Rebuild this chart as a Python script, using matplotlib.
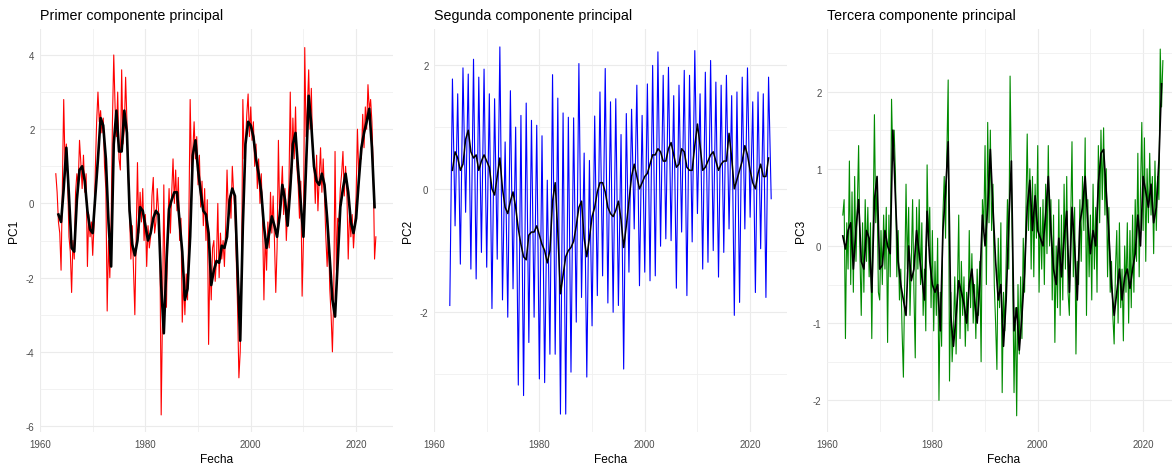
import numpy as np
import matplotlib
matplotlib.use('Agg')
import matplotlib.pyplot as plt
from matplotlib.ticker import MultipleLocator

plt.rcParams['font.family'] = ['Liberation Sans', 'DejaVu Sans']
plt.rcParams['axes.unicode_minus'] = False

start_year = 1963.0

# PC1, quarterly scores
pc1_raw = [
    0.8, 0.3, -0.5, -0.8,   -1.8, 0.5, 2.8, 1.0,
    1.6, 0.6, -0.9, -1.3,   -2.4, -1.0, -1.5, 0.3,
    0.8, 0.5, 1.7, 1.1,     0.4, 1.3, 0.3, 0.8,
    -1.7, -0.3, -0.9, -0.5, -1.4, -0.6, 0.9, 2.2,
    3.0, 2.2, 2.5, 1.9,     2.3, 1.0, 0.4, -2.9,
    -1.0, -2.0, -0.5, 2.2,  4.0, 2.6, 1.8, 3.0,
    1.2, 0.9, 3.6, 1.6,     2.0, 3.4, 2.2, 0.7,
    -0.3, -1.5, -0.6, -1.8, -3.0, -0.9, 1.1, -0.8,
    0.3, -0.5, 0.4, -1.0,   -0.3, -1.7, -0.6, -1.2,
    -0.9, 0.2, 0.7, -0.8,   -0.5, 0.4, -0.2, -1.0,
    -5.7, -3.0, 0.5, -2.3,  -2.8, -0.6, 0.4, -0.8,
    0.3, 1.2, 0.0, 0.9,     -0.2, 0.7, -1.0, -0.4,
    -3.2, -2.0, -3.0, -1.9, -2.6, -0.5, 2.8, 0.9,
    1.4, 2.2, 1.2, 1.8,     0.5, 1.3, -0.1, 0.6,
    -0.6, 0.4, -1.0, 0.1,   -3.8, -1.5, -2.6, -1.2,
    -1.0, -2.1, -1.5, 0.0,  -2.0, -0.8, -1.5, -1.0,
    -1.7, -0.6, 0.9, -0.3,  0.2, -0.4, 1.0, 0.3,
    -0.2, -1.5, -2.8, -4.7, -4.0, -2.0, 2.8, 1.2,
    1.6, 2.4, 2.95, 1.8,    2.6, 1.7, 2.2, 1.0,
    1.6, 0.4, 1.2, 0.0,     0.8, -0.5, -2.6, -0.8,
    -1.8, -0.5, -1.2, 0.3,  -0.8, 0.2, -1.0, -2.4,
    -1.2, 1.7, -0.4, 0.2,   1.0, -0.3, 0.4, -1.0,
    -0.2, 0.5, 3.0, 0.8,    2.3, 1.2, 2.6, 1.0,
    0.5, -0.4, 0.6, -2.5,   -1.0, 4.2, 1.8, 2.6,
    3.6, 2.0, 3.1, 1.4,     1.1, 0.0, 1.3, -0.2,
    0.7, 1.5, 0.3, 1.2,     0.2, -0.9, -1.7, -0.7,
    -2.3, -3.0, -4.0, -2.5, 1.4, -1.8, -0.4, -0.5,
    0.4, 0.8, 1.4, 0.2,     1.0, 0.3, -1.5, -0.2,
    -0.9, -0.3, -1.2, -0.6, 0.2, 2.0, 0.8, 1.2,
    1.2, 2.4, 1.5, 2.6,     2.0, 3.2, 2.5, 2.8,
    2.2, 0.9, -1.5, -0.9,
]

# PC1, 12-month smoothing, half-yearly
pc1_smooth = [
    np.nan, -0.3, -0.5, 0.4, 1.5, 0.2, -1.2, -1.3,
    0.1, 0.9, 1.0, 0.6, -0.2, -0.7, -0.8, 0.2,
    1.2, 2.3, 2.1, 1.2, -0.5, -1.7, 1.6, 2.5,
    1.4, 1.4, 2.5, 1.9, -0.2, -1.1, -1.4, -1.0,
    -0.1, -0.2, -0.6, -1.0, -0.8, -0.4, -0.2, -0.3,
    -2.2, -3.5, -1.6, -0.15, 0.1, 0.3, 0.3, -0.5,
    -1.3, -2.6, -2.3, -0.9, 1.3, 1.7, 0.9, 0.3,
    -0.2, -0.3, -0.8, -2.2, -1.8, -1.55, -1.6, -1.14,
    -1.2, -0.9, 0.1, 0.4, 0.2, -1.8, -3.7, -0.6,
    1.6, 2.2, 2.1, 1.8, 1.2, 0.8, 0.3, -0.6,
    -1.2, -0.8, -0.35, -0.6, -0.9, -0.3, 0.5, 0.1,
    -0.6, 0.4, 1.6, 1.9, 0.9, 0.0, -0.9, 1.0,
    2.9, 2.1, 1.0, 0.6, 0.5, 0.8, 0.5, -0.4,
    -1.5, -2.6, -3.05, -1.6, -0.1, 0.4, 0.8, 0.3,
    -0.5, -0.8, -0.4, 0.6, 1.5, 1.9, 2.2, 2.55,
    1.5, -0.1,
]

# PC2, half-yearly troughs and peaks of the seasonal cycle
pc2_raw = [
    -1.89, 1.78, -0.6, 1.54, -1.22, 1.96, -0.38, 1.86,
    -1.3, 2.1, -1.46, 1.81, -1.03, 1.94, -1.27, 1.54,
    -1.94, 1.46, -1.14, 2.3, -1.8, 0.76, -2.08, 1.59,
    -1.62, 1.0, -3.18, 1.19, -3.35, 1.39, -2.49, 1.11,
    -2.08, 1.03, -3.08, 0.86, -3.14, 0.14, -2.68, 1.85,
    -2.68, 1.47, -3.65, 1.23, -3.65, 1.16, -2.97, 1.15,
    -2.16, 2.03, -1.76, 0.58, -3.05, 0.46, -2.22, 1.18,
    -1.73, 1.57, -1.41, 1.95, -1.85, 1.41, -2.0, 1.46,
    -1.89, 0.88, -2.92, 1.22, -1.35, 1.29, -0.65, 1.68,
    -1.57, 1.19, -1.35, 1.7, -1.49, 2.0, -1.41, 2.22,
    -0.93, 1.84, -0.81, 1.97, -0.84, 1.51, -1.61, 1.68,
    -0.7, 1.92, -1.73, 1.84, -0.86, 2.24, -0.4, 1.54,
    -1.3, 1.89, -1.19, 2.08, -1.0, 1.73, -1.43, 1.68,
    -1.03, 1.84, -0.65, 1.51, -2.05, 1.57, -1.84, 1.81,
    -0.65, 1.96, -0.46, 1.41, -1.68, 1.57, -0.97, 1.54,
    -1.76, 1.81, -0.16,
]

pc2_smooth = [
    np.nan, 0.3, 0.6, 0.5, 0.3, 0.4, 0.8, 0.95,
    0.6, 0.5, 0.55, 0.3, 0.45, 0.55, 0.45, 0.35,
    0.0, -0.1, 0.2, 0.5, 0.0, -0.3, -0.4, -0.2,
    -0.05, -0.3, -0.65, -0.9, -1.1, -1.15, -0.75, -0.7,
    -0.7, -0.6, -0.75, -0.9, -1.0, -1.2, -1.0, -0.2,
    0.1, -0.7, -1.7, -1.4, -1.1, -1.0, -0.95, -0.85,
    -0.6, -0.3, -0.2, -0.8, -1.1, -0.8, -0.45, -0.3,
    -0.05, 0.1, 0.1, -0.05, -0.3, -0.4, -0.45, -0.35,
    -0.2, -0.5, -0.95, -0.6, -0.2, 0.2, 0.4, 0.2,
    0.0, 0.1, 0.2, 0.25, 0.4, 0.55, 0.55, 0.65,
    0.6, 0.45, 0.45, 0.65, 0.75, 0.55, 0.35, 0.4,
    0.65, 0.6, 0.35, 0.3, 0.3, 0.7, 1.05, 0.7,
    0.3, 0.35, 0.45, 0.55, 0.6, 0.45, 0.3, 0.4,
    0.45, 0.45, 0.9, 0.5, 0.0, 0.15, 0.3, 0.45,
    0.7, 0.55, 0.3, 0.1, 0.0, 0.25, 0.4, 0.2,
    0.2, 0.5,
]

# PC3, quarterly scores
pc3_raw = [
    0.4, 0.6, -1.2, 0.3,    -0.3, 1.1, -0.5, 0.7,
    -0.6, 0.9, -0.2, 0.5,   1.3, -0.1, -0.9, 0.3,
    -0.6, 0.6, -0.2, 0.5,   -0.4, 0.3, -1.2, 0.2,
    1.7, 0.3, 0.8, -0.6,    -0.7, 0.2, -0.5, 0.4,
    -0.3, 0.5, -1.25, 0.4,  -0.4, 1.9, 1.1, 1.5,
    0.9, -0.4, 0.2, -0.7,   -0.3, -1.1, -1.7, -0.4,
    0.8, -0.3, 0.5, -0.9,   -0.2, 0.6, -0.6, -1.45,
    0.5, -0.3, 0.6, -0.5,   0.3, -0.9, -0.3, -1.1,
    1.05, 0.0, 0.5, -0.8,   0.2, -1.1, -0.2, -0.9,
    0.1, -2.0, -0.6, -1.3,  0.4, 0.9, 0.1, 1.2,
    2.15, -1.75, -0.6, -1.5, -1.1, -0.4, -1.4, -0.6,
    0.4, -1.2, -0.2, -0.9,  -0.4, -1.3, -0.6, -1.1,
    0.2, -0.8, -0.1, -1.0,  -0.5, -1.2, -0.3, -0.9,
    -0.2, -1.5, 0.6, 0.2,   1.3, -0.5, 1.6, 0.3,
    1.5, 0.2, 0.8, -0.5,    -1.0, -1.6, 0.1, -0.8,
    0.3, -1.9, -0.6, -1.1,  -0.2, 0.6, -0.3, 2.2,
    0.9, -0.4, -1.9, -0.8,  -2.2, -0.5, -1.4, -0.4,
    -1.2, 0.1, -0.6, 0.4,   1.45, 0.2, 1.0, -0.3,
    0.9, -0.4, 0.8, 0.1,    1.3, -0.6, 0.5, -0.3,
    0.6, -0.5, 0.8, -0.1,   1.3, 0.0, 0.6, -0.7,
    0.4, -1.25, 0.0, -0.8,  0.6, -0.9, 0.4, -0.7,
    0.8, -0.3, 0.9, -0.6,   -0.9, 0.3, 1.35, -0.4,
    0.5, -1.4, -0.2, -0.5,  0.6, -0.2, 0.9, 0.2,
    1.4, -0.9, 0.6, -0.4,   0.4, -0.7, 0.8, -0.3,
    0.5, -0.6, 1.3, 0.3,    1.5, 0.6, 1.53, 0.4,
    1.0, -0.4, 0.5, -0.6,   -0.2, -0.9, -1.27, -0.3,
    0.2, -1.0, 0.3, -0.8,   -0.3, -1.23, 0.0, -0.6,
    0.3, -1.0, 0.2, -0.8,   0.4, -0.6, 0.6, -0.2,
    1.2, -0.4, 0.7, 1.6,    0.2, 1.4, -0.2, 1.0,
    0.3, 1.2, 0.4, 0.9,     -0.1, 1.1, 0.2, 0.9,
    0.6, 2.55, 1.8, 2.4,
]

pc3_smooth = [
    0.13, -0.04, 0.2, 0.3, -0.3, 0.22, 0.6, -0.2,
    -0.3, 0.2, 0.1, -0.6, 0.6, 0.9, -0.3, -0.25,
    0.2, 0.0, -0.1, 1.5, 0.6, -0.2, -0.5, -0.7,
    -0.9, 0.0, -0.45, -0.3, 0.2, -0.1, -0.4, -0.7,
    0.45, -0.2, -0.5, -0.6, -0.5, -1.1, 0.2, 0.7,
    1.35, -0.9, -1.3, -0.9, -0.45, -0.6, -0.75, -1.0,
    -0.5, -0.3, -0.7, -1.0, -0.5, 0.4, 0.0, 0.5,
    1.25, 0.5, -0.2, -0.7, -0.5, -1.3, -0.7, 0.3,
    1.1, -1.1, -0.8, -1.35, -0.9, -0.35, 0.5, 0.85,
    0.2, 0.65, 0.2, 0.1, 0.0, 0.4, 0.9, 0.2,
    -0.3, -0.5, 0.1, -0.4, 0.1, 0.45, -0.6, 0.5,
    0.0, -0.7, 0.3, 0.5, 0.9, 0.3, -0.1, 0.2,
    0.0, 0.8, 1.2, 1.25, 0.7, 0.15, -0.5, -0.9,
    -0.6, -0.3, -0.7, -0.4, -0.3, -0.55, -0.3, -0.1,
    0.4, 0.0, 0.9, 0.7, 0.5, 0.8, 0.3, 0.5,
    1.1, 2.1,
]

titles = ['Primer componente principal', 'Segunda componente principal',
          'Tercera componente principal']
ylabels = ['PC1', 'PC2', 'PC3']
colors = ['#FF0000', '#0000FF', '#008B00']


def years(values, step):
    return start_year + step * np.arange(len(values))


W, H = 1172, 464
fig = plt.figure(figsize=(W / 100, H / 100), dpi=100)

panels = [
    (pc1_raw, 0.25, pc1_smooth, (-6.16, 4.70), 2, 1, 1.9),
    (pc2_raw, 0.5, pc2_smooth, (-3.94, 2.59), 2, 1, 1.1),
    (pc3_raw, 0.25, pc3_smooth, (-2.41, 2.81), 1, 0.5, 1.2),
]
lefts = [40, 434, 827]

for i, (raw, step, smooth, ylim, ymaj, ymin, slw) in enumerate(panels):
    ax = fig.add_axes([lefts[i] / W, 31 / H, 353 / W, 403 / H])
    ax.plot(years(raw, step), raw, color=colors[i], lw=0.8)
    ax.plot(years(smooth, 0.5), smooth, color='black', lw=slw,
            solid_joinstyle='round')

    ax.set_xlim(1960, 2027)
    ax.set_ylim(*ylim)
    ax.xaxis.set_major_locator(MultipleLocator(20))
    ax.xaxis.set_minor_locator(MultipleLocator(10))
    ax.yaxis.set_major_locator(MultipleLocator(ymaj))
    ax.yaxis.set_minor_locator(MultipleLocator(ymin))
    ax.xaxis.set_major_formatter(lambda v, p: '%d' % v)
    ax.yaxis.set_major_formatter(lambda v, p: '%g' % v)

    ax.grid(which='major', color='#EBEBEB', lw=0.8)
    ax.grid(which='minor', color='#F0F0F0', lw=0.6)
    ax.set_axisbelow(True)
    for s in ax.spines.values():
        s.set_visible(False)
    ax.tick_params(which='both', length=0, labelsize=7, labelcolor='#4D4D4D')
    ax.tick_params(axis='x', pad=5)
    ax.tick_params(axis='y', pad=4)

    ax.set_title(titles[i], loc='left', fontsize=10.3, pad=7)
    ax.set_xlabel('Fecha', fontsize=8.6, labelpad=3)
    ax.set_ylabel(ylabels[i], fontsize=8.6, labelpad=4)

fig.savefig('out.png', dpi=100)
